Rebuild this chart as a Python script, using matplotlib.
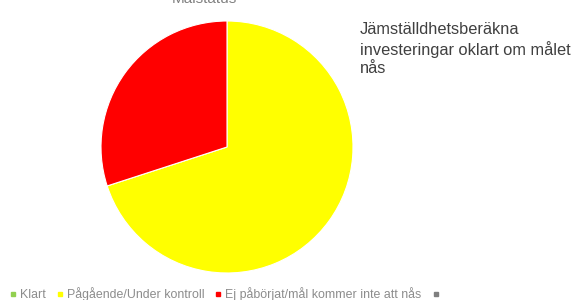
import matplotlib.pyplot as plt
from matplotlib.lines import Line2D

plt.rcParams['font.family'] = ['Liberation Sans', 'DejaVu Sans']

# data
labels = ["Klart", "Pågående/Under kontroll", "Ej påbörjat/mål kommer inte att nås", ""]
values = [0, 70, 30, 0]
colors = ["#92D050", "#FFFF00", "#FF0000", "#7F7F7F"]
title = "Målstatus"
note = "Jämställdhetsberäkna\ninvesteringar oklart om målet\nnås"

fig = plt.figure(figsize=(5.8, 3.0), dpi=100)
W, H = 580.0, 300.0
cx, cy, r = 227, 147, 126
ax = fig.add_axes([(cx - r) / W, 1 - (cy + r) / H, 2 * r / W, 2 * r / H])

vals = [v for v in values if v > 0]
cols = [c for v, c in zip(values, colors) if v > 0]
ax.pie(vals, colors=cols, startangle=90, counterclock=False,
       wedgeprops=dict(edgecolor="white", linewidth=0.8))
ax.set_xlim(-1, 1)
ax.set_ylim(-1, 1)
ax.set_aspect("equal")
ax.axis("off")

fig.text(204 / W, 1 - 3 / H, title, ha="center", va="baseline",
         fontsize=11, color="#808080")
fig.text(360 / W, 1 - 22 / H, note, ha="left", va="top",
         fontsize=11.8, color="#404040", linespacing=1.28)

handles = [Line2D([], [], marker="s", linestyle="none", markersize=3.4,
                  markerfacecolor=c, markeredgecolor=c) for c in colors]
fig.legend(handles, labels, loc="center left", bbox_to_anchor=(10 / W, 1 - 294 / H),
           ncol=4, frameon=False, fontsize=8.9, labelcolor="#8C8C8C",
           handlelength=0.5, handletextpad=0.3, columnspacing=0.9,
           borderaxespad=0, borderpad=0)

fig.savefig("out.png", dpi=100, facecolor="white")
